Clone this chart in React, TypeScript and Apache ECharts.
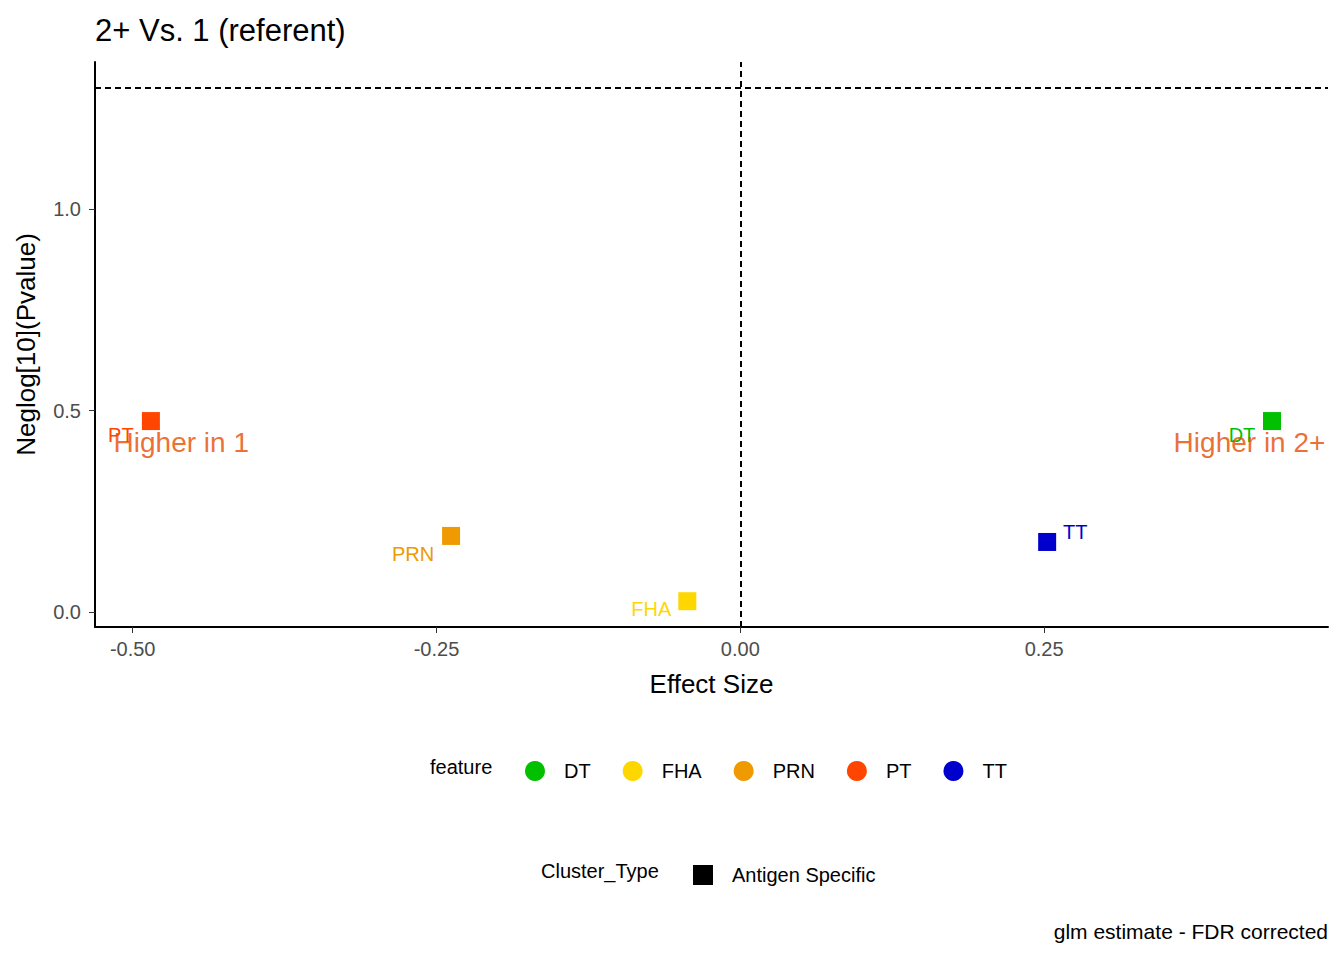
import React, { useEffect, useRef } from "react";
import * as echarts from "echarts";

const features = ["DT", "FHA", "PRN", "PT", "TT"];
const colors = ["#00C000", "#FFD700", "#EE9A00", "#FF4500", "#0000CD"];
const effect = [0.4375, -0.0436, -0.238, -0.485, 0.2525];
const neglogP = [0.474, 0.027, 0.189, 0.474, 0.174];
const labelOffsets: [number, number][] = [[-30, 14], [-36, 8], [-38, 18], [-30, 14], [28, -10]];
const annotations = [
  { x: -0.46, y: 0.42, text: "Higher in 1" },
  { x: 0.419, y: 0.42, text: "Higher in 2+" },
];
const xTicks = [-0.5, -0.25, 0, 0.25];
const yTicks = [0, 0.5, 1];
const pThreshold = 1.301;

export default function App() {
  const ref = useRef<HTMLDivElement | null>(null);

  useEffect(() => {
    const chart = echarts.init(ref.current!, null, { renderer: "svg" });
    const font = "Arial, Liberation Sans, sans-serif";
    const pointSeries = features.map((f, i) => ({
      name: f,
      type: "scatter",
      symbol: "rect",
      symbolSize: 18,
      itemStyle: { color: colors[i], opacity: 1 },
      data: [[effect[i], neglogP[i]]],
      label: {
        show: true,
        formatter: f,
        position: "inside",
        offset: labelOffsets[i],
        color: colors[i],
        fontSize: 20,
        fontFamily: font,
      },
      z: 3,
    }));
    chart.setOption({
      animation: false,
      textStyle: { fontFamily: font },
      title: {
        text: "2+ Vs. 1 (referent)",
        left: 90,
        top: 10,
        textStyle: { fontSize: 31, fontWeight: "normal", color: "#000" },
      },
      grid: { left: 95, right: 16, top: 62, bottom: 333 },
      xAxis: {
        type: "value",
        min: -0.531,
        max: 0.4836,
        axisLabel: {
          color: "#4d4d4d",
          fontSize: 20,
          margin: 12,
          formatter: (v: number) => v.toFixed(2),
          customValues: xTicks,
        },
        axisTick: { show: true, length: 6, lineStyle: { color: "#333" }, customValues: xTicks },
        axisLine: { show: true, onZero: false, lineStyle: { color: "#000", width: 2 } },
        splitLine: { show: false },
        name: "Effect Size",
        nameLocation: "middle",
        nameGap: 44,
        nameTextStyle: { fontSize: 26, color: "#000" },
      },
      yAxis: {
        type: "value",
        min: -0.037,
        max: 1.365,
        axisLabel: {
          color: "#4d4d4d",
          fontSize: 20,
          margin: 14,
          formatter: (v: number) => v.toFixed(1),
          customValues: yTicks,
        },
        axisTick: { show: true, length: 6, lineStyle: { color: "#333" }, customValues: yTicks },
        axisLine: { show: true, onZero: false, lineStyle: { color: "#000", width: 2 } },
        splitLine: { show: false },
        name: "Neglog[10](Pvalue)",
        nameLocation: "middle",
        nameGap: 56,
        nameTextStyle: { fontSize: 26, color: "#000" },
      },
      legend: [
        {
          data: features.map((f) => ({ name: f, icon: "circle", itemStyle: { opacity: 1 } })),
          left: 520,
          top: 756,
          itemWidth: 20,
          itemHeight: 20,
          itemGap: 32,
          textStyle: { fontSize: 20, color: "#000", padding: [0, 0, 0, 14] },
        },
        {
          data: [{ name: "Antigen Specific", icon: "rect", itemStyle: { color: "#000", opacity: 1 } }],
          left: 688,
          top: 860,
          itemWidth: 20,
          itemHeight: 20,
          textStyle: { fontSize: 20, color: "#000", padding: [0, 0, 0, 14] },
        },
      ],
      graphic: [
        { type: "text", left: 430, top: 757, style: { text: "feature", fontSize: 20, fill: "#000", fontFamily: font } },
        { type: "text", left: 541, top: 861, style: { text: "Cluster_Type", fontSize: 20, fill: "#000", fontFamily: font } },
        { type: "text", right: 16, top: 921, style: { text: "glm estimate - FDR corrected", fontSize: 21, fill: "#000", fontFamily: font } },
      ],
      series: [
        ...pointSeries,
        {
          name: "Antigen Specific",
          type: "scatter",
          symbol: "rect",
          itemStyle: { color: "#000", opacity: 1 },
          data: [],
        },
        {
          name: "refs",
          type: "line",
          data: [],
          markLine: {
            silent: true,
            symbol: "none",
            label: { show: false },
            lineStyle: { color: "#000", type: [6, 4], width: 2 },
            data: [{ yAxis: pThreshold }, { xAxis: 0 }],
          },
        },
        {
          name: "annotations",
          type: "scatter",
          symbolSize: 0,
          data: annotations.map((a) => ({ value: [a.x, a.y], name: a.text })),
          label: {
            show: true,
            position: "inside",
            formatter: (p: any) => p.name,
            color: "#E64A00",
            fontSize: 28,
            fontFamily: font,
          },
          z: 4,
        },
      ],
    });
    return () => chart.dispose();
  }, []);

  return (
    <div
      ref={ref}
      style={{ position: "fixed", left: 0, top: 0, width: 1344, height: 960, background: "#fff" }}
    />
  );
}
